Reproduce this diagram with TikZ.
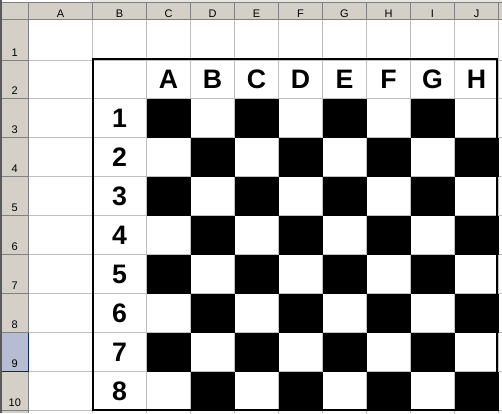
\documentclass[tikz,border=0pt]{standalone}
\usepackage{fontspec}
\setmainfont{Liberation Sans}
\definecolor{hdr}{HTML}{D4D0C8}
\definecolor{gridc}{HTML}{C0C0C0}
\definecolor{hdrline}{HTML}{808080}
\definecolor{selfill}{HTML}{B6BDD2}
\definecolor{selline}{HTML}{0A246A}
\begin{document}
\begin{tikzpicture}[x=1pt,y=-1pt,
  bigtxt/.style={anchor=base,inner sep=0pt,font=\bfseries\fontsize{26.7}{30}\selectfont},
  smalltxt/.style={anchor=base,inner sep=0pt,font=\fontsize{11}{13}\selectfont},
  gridln/.style={draw=gridc,line width=1pt},
  hdrln/.style={draw=hdrline,line width=1pt}]
\useasboundingbox (0,0) rectangle (502,413);
\fill[white] (0,0) rectangle (502,413);
% top strip
\fill[hdr!55] (90,0) rectangle (502,2.5);
% header backgrounds
\fill[hdr] (0,2.5) rectangle (502,19.5);
\fill[hdr] (0,19.5) rectangle (28.5,413);
% selected row 9
\fill[selfill] (2,332.5) rectangle (28.5,371.5);
% grid lines
\foreach \x in {92.5,146.5,190.5,234.5,278.5,322.5,366.5,410.5,454.5,498.5}
  \draw[gridln] (\x,19.5) -- (\x,413);
\foreach \y in {60.5,98.5,137.5,176.5,215.5,254.5,293.5,332.5,371.5,410.5}
  \draw[gridln] (28.5,\y) -- (502,\y);
% header separators
\foreach \x in {28.5,92.5,146.5,190.5,234.5,278.5,322.5,366.5,410.5,454.5,498.5}
  \draw[hdrln] (\x,2.5) -- (\x,19.5);
\draw[hdrln] (0,19.5) -- (502,19.5);
\draw[hdrln] (0,2.5) -- (502,2.5);
\foreach \y in {60.5,98.5,137.5,176.5,215.5,254.5,293.5,332.5,410.5}
  \draw[hdrln] (2,\y) -- (28.5,\y);
\draw[hdrln] (28.5,19.5) -- (28.5,413);
\draw[draw=hdrline!70!black,line width=1.5pt] (1.2,0) -- (1.2,413);
% selected row borders
\draw[selline,line width=1pt] (2,371.5) -- (28.5,371.5);
\draw[selline,line width=1pt] (28.5,332.5) -- (28.5,371.5);
% black squares
\foreach \r in {1,...,8}
  \foreach \c in {1,...,8}{
    \pgfmathtruncatemacro{\parity}{mod(\r+\c,2)}
    \ifnum\parity=0
      \fill[black] ({146.5+44*(\c-1)},{98.5+39*(\r-1)}) rectangle +(44,39);
    \fi
  }
% board border
\draw[black,line width=2pt] (92.7,59.4) rectangle (497,410);
% board letters
\foreach \l [count=\i] in {A,B,C,D,E,F,G,H}
  \node[bigtxt] (L\l) at ({168.5+44*(\i-1)},88.3) {\l};
% board numbers
\foreach \n in {1,...,8}
  \node[bigtxt] (N\n) at (119.5,{137.5+39*(\n-1)-9.6}) {\n};
% column headers
\foreach \xx/\l in {60.5/A,119.5/B,168.5/C,212.5/D,256.5/E,300.5/F,344.5/G,388.5/H,432.5/I,476.5/J}
  \node[smalltxt] (ch\l) at (\xx,17.2) {\l};
% row headers
\foreach \b [count=\i] in {60.5,98.5,137.5,176.5,215.5,254.5,293.5,332.5,371.5,410.5}
  \node[smalltxt] (rh\i) at (14.8,{\b-4.5}) {\i};
\end{tikzpicture}
\end{document}
